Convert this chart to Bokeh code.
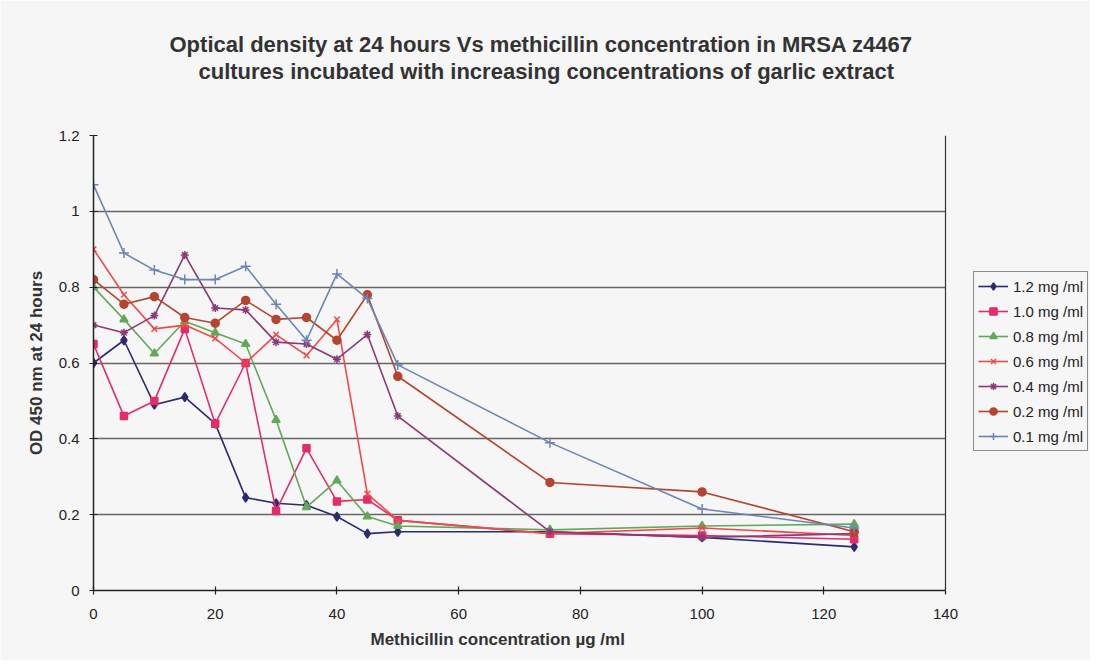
import math
from bokeh.plotting import figure
from bokeh.models import Range1d, FixedTicker, Legend, LegendItem, Title, BoxAnnotation, Span
from bokeh.embed import file_html
from bokeh.resources import INLINE

# ---------------- data ----------------
methicillin = [0, 5, 10, 15, 20, 25, 30, 35, 40, 45, 50, 75, 100, 125]

od_12 = [0.60, 0.66, 0.49, 0.51, 0.44, 0.245, 0.23, 0.225, 0.195, 0.15, 0.155, 0.155, 0.14, 0.115]
od_10 = [0.65, 0.46, 0.50, 0.69, 0.44, 0.60, 0.21, 0.375, 0.235, 0.24, 0.185, 0.15, 0.145, 0.135]
od_08 = [0.80, 0.715, 0.625, 0.71, 0.68, 0.65, 0.45, 0.22, 0.29, 0.195, 0.17, 0.16, 0.17, 0.175]
od_06 = [0.90, 0.78, 0.69, 0.70, 0.665, 0.60, 0.675, 0.62, 0.715, 0.255, 0.185, 0.15, 0.165, 0.145]
od_04 = [0.70, 0.68, 0.725, 0.885, 0.745, 0.74, 0.655, 0.65, 0.61, 0.675, 0.46, 0.155, 0.14, 0.15]
od_02 = [0.82, 0.755, 0.775, 0.72, 0.705, 0.765, 0.715, 0.72, 0.66, 0.78, 0.565, 0.285, 0.26, 0.155]
od_01 = [1.07, 0.89, 0.845, 0.82, 0.82, 0.855, 0.755, 0.66, 0.835, 0.77, 0.595, 0.39, 0.215, 0.165]

series_labels = ["1.2 mg /ml", "1.0 mg /ml", "0.8 mg /ml", "0.6 mg /ml",
                 "0.4 mg /ml", "0.2 mg /ml", "0.1 mg /ml"]
series_values = [od_12, od_10, od_08, od_06, od_04, od_02, od_01]

x_ticks = [0, 20, 40, 60, 80, 100, 120, 140]
x_axis_max = 140
y_ticks = [0, 0.2, 0.4, 0.6, 0.8, 1.0, 1.2]
y_tick_labels = ["0", "0.2", "0.4", "0.6", "0.8", "1", "1.2"]

title_lines = ["Optical density at 24 hours Vs methicillin concentration in MRSA z4467",
               "cultures incubated with increasing concentrations of garlic extract"]
x_title = "Methicillin concentration \u00b5g /ml"
y_title = "OD 450 nm at 24 hours"

# ---------------- layout / styles ----------------
W, H = 1090, 660
LEFT, TOP, BOTTOM = 93, 135, 70
PLOT_W = 852                      # pixel width of the 0..140 plot area
FRAME_W = W - LEFT                # frame extended to the right edge to host the legend
x_view_max = x_axis_max * FRAME_W / PLOT_W

colors = ["#2A2C6E", "#E22E68", "#62A85A", "#EE4A4A", "#8A3A76", "#B4452E", "#6A86B4"]
markers = ["diamond", "square", "triangle", "x", "asterisk", "circle", "cross"]
msizes = [9, 7, 8, 8, 8, 8, 10]
FONT = "Liberation Sans"
BG = "#F6F6F6"
TXT = "#333333"
FRAME_COL = "#333333"

p = figure(width=W, height=H, output_backend="svg", toolbar_location=None,
           x_range=Range1d(0, x_view_max), y_range=Range1d(0, 1.2),
           min_border_left=LEFT, min_border_right=0, min_border_top=TOP,
           min_border_bottom=BOTTOM)
p.background_fill_color = BG
p.border_fill_color = BG
p.outline_line_color = None

# titles: p.title is outermost; list items added first sit nearest the frame
p.title.text = title_lines[0]
p.title.align = "left"
p.title.offset = 76
p.title.text_font = FONT
p.title.text_font_style = "bold"
p.title.text_font_size = "22px"
p.title.text_color = TXT
p.title.standoff = 0
spacer = Title(text=" ", text_font_size="1px", standoff=49)
p.add_layout(spacer, "above")
t2 = Title(text=title_lines[1], align="left", offset=105, text_font=FONT,
           text_font_style="bold", text_font_size="22px", text_color=TXT, standoff=0)
p.add_layout(t2, "above")

p.xgrid.grid_line_color = None
p.ygrid.grid_line_color = "#666666"
p.ygrid.grid_line_width = 1.5
p.ygrid.ticker = FixedTicker(ticks=y_ticks)

p.xaxis.ticker = FixedTicker(ticks=x_ticks)
p.xaxis.bounds = (0, x_axis_max)
p.yaxis.ticker = FixedTicker(ticks=y_ticks)
p.yaxis.major_label_overrides = {t: s for t, s in zip(y_ticks, y_tick_labels)}
for ax in (p.xaxis[0], p.yaxis[0]):
    ax.axis_line_color = "#222222"
    ax.axis_line_width = 1.5
    ax.major_tick_line_color = "#222222"
    ax.major_tick_line_width = 1.2
    ax.major_tick_in = 4
    ax.major_tick_out = 4
    ax.minor_tick_line_color = None
    ax.major_label_text_font = FONT
    ax.major_label_text_font_size = "15px"
    ax.major_label_text_color = "#222222"
    ax.axis_label_text_font = FONT
    ax.axis_label_text_font_style = "bold"
    ax.axis_label_text_font_size = "17px"
    ax.axis_label_text_color = TXT
p.yaxis.major_label_standoff = 10
p.xaxis.major_label_standoff = 14
p.yaxis.axis_label = y_title
p.yaxis.axis_label_standoff = 10

# x-axis title as a below-panel title so it can sit left of the frame centre
xt = Title(text=x_title, align="left", offset=277, text_font=FONT, text_font_style="bold",
           text_font_size="17px", text_color=TXT, standoff=12)
p.add_layout(xt, "below")

items = []
for lab, vals, c, m, ms in zip(series_labels, series_values, colors, markers, msizes):
    r_line = p.line(methicillin, vals, line_color=c, line_width=1.6)
    r_pts = p.scatter(methicillin, vals, marker=m, size=ms, fill_color=c,
                      line_color=c, line_width=1.5)
    items.append(LegendItem(label=lab, renderers=[r_line, r_pts]))

# blank out the region right of the plot area, then draw its right border
p.add_layout(BoxAnnotation(left=x_axis_max, fill_color=BG, fill_alpha=1, line_color=None))
p.add_layout(Span(location=x_axis_max, dimension="height", line_color=FRAME_COL,
                  line_width=1.2))

legend = Legend(items=items, location=(880, 139))
legend.border_line_color = "#222222"
legend.border_line_width = 1
legend.background_fill_color = BG
legend.background_fill_alpha = 1
legend.label_text_font = FONT
legend.label_text_font_size = "15px"
legend.label_text_color = "#222222"
legend.glyph_width = 30
legend.glyph_height = 18
legend.label_height = 20
legend.spacing = 5
legend.padding = 4
legend.margin = 0
legend.label_standoff = 5
p.add_layout(legend, "center")

open("out.html", "w").write(file_html(p, INLINE))
